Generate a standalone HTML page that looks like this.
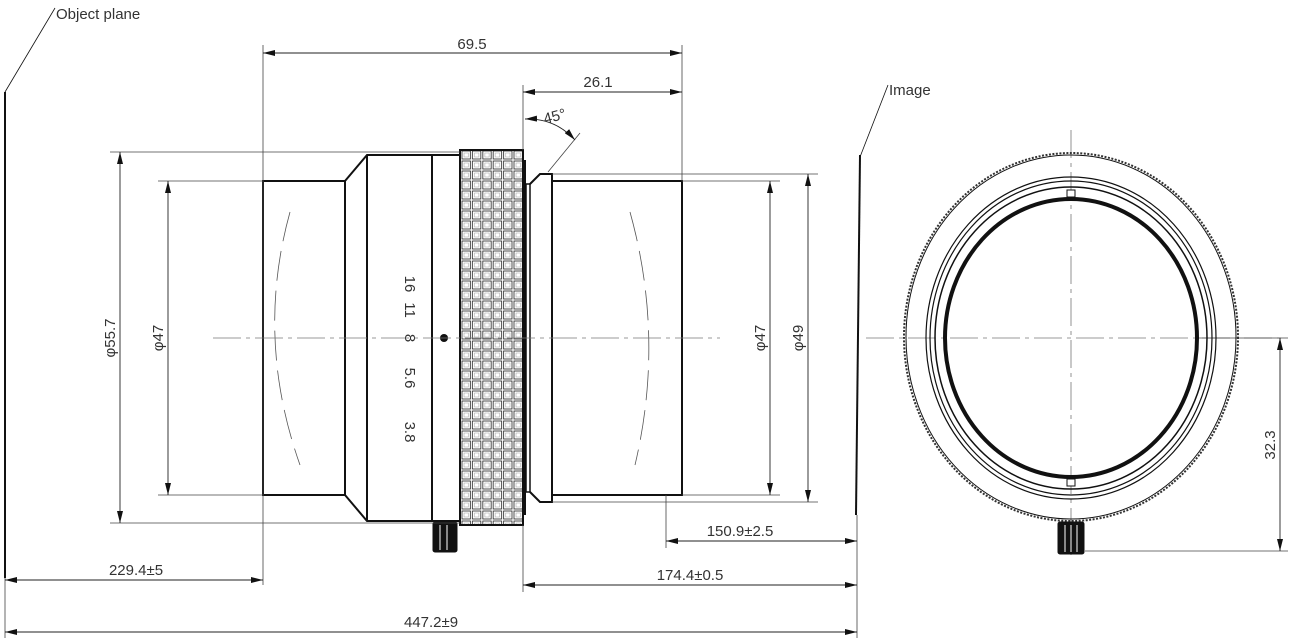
<!DOCTYPE html>
<html><head><meta charset="utf-8"><style>
html,body{margin:0;padding:0;background:#fff}
svg{display:block}
text{font-family:"Liberation Sans",sans-serif;fill:#333;font-size:15px}
</style></head><body>
<svg width="1290" height="640" viewBox="0 0 1290 640" xmlns="http://www.w3.org/2000/svg">
<defs>
<marker id="a" viewBox="0 0 12 6" refX="12" refY="3" markerWidth="12" markerHeight="6" orient="auto-start-reverse" markerUnits="userSpaceOnUse"><path d="M0,0L12,3L0,6z" fill="#111"/></marker>
<pattern id="k" x="461" y="150" width="10.4" height="10" patternUnits="userSpaceOnUse">
<rect width="10.4" height="10" fill="#fff"/>
<rect x="1" y="1" width="8.4" height="8" fill="none" stroke="#222" stroke-width="0.8"/>
<rect x="3" y="3" width="4.4" height="4" fill="none" stroke="#999" stroke-width="0.5"/>
</pattern>
</defs>
<g fill="none" stroke="#111">
<line x1="5" y1="92" x2="5" y2="578" stroke-width="2"/>
<line x1="5" y1="92" x2="55" y2="8" stroke-width="0.8"/>
<line x1="860" y1="155" x2="856" y2="515" stroke-width="2"/>
<line x1="860" y1="157" x2="888" y2="85" stroke-width="0.8"/>
<rect x="263" y="181" width="82" height="314" stroke-width="2"/>
<path d="M345,181L367,155H460V521H367L345,495" stroke-width="2"/>
<line x1="367" y1="155" x2="367" y2="521" stroke-width="2"/>
<line x1="432" y1="155" x2="432" y2="521" stroke-width="2"/>
<rect x="460" y="150" width="63" height="375" fill="url(#k)" stroke-width="2"/>
<rect x="523" y="160" width="3" height="355" fill="#111" stroke="none"/>
<rect x="526" y="184" width="4" height="308" stroke-width="1.5"/>
<path d="M530,184L540,174H552V502H540L530,492" stroke-width="2"/>
<rect x="552" y="181" width="130" height="314" stroke-width="2"/>
<path d="M290,212Q255,338 300,465" stroke-width="0.8" stroke-dasharray="30,10" stroke="#555"/>
<path d="M630,212Q665,338 635,465" stroke-width="0.8" stroke-dasharray="30,10" stroke="#555"/>
<rect x="433" y="522" width="24" height="30" rx="2" fill="#111"/>
<line x1="440" y1="525" x2="440" y2="550" stroke="#fff" stroke-width="1"/>
<line x1="447" y1="525" x2="447" y2="550" stroke="#fff" stroke-width="1"/>
<circle cx="444" cy="338" r="4" fill="#111" stroke="none"/>
</g>
<g stroke="#777" stroke-width="0.8" stroke-dasharray="28,5,4,5" fill="none">
<line x1="213" y1="338" x2="720" y2="338"/>
<line x1="866" y1="338" x2="1285" y2="338"/>
<line x1="1071" y1="130" x2="1071" y2="555"/>
</g>
<g stroke="#444" stroke-width="0.8" fill="none">
<line x1="263" y1="45" x2="263" y2="585"/>
<line x1="682" y1="45" x2="682" y2="181"/>
<line x1="523" y1="85" x2="523" y2="150"/>
<line x1="523" y1="525" x2="523" y2="592"/>
<line x1="857" y1="515" x2="857" y2="638"/>
<line x1="666" y1="495" x2="666" y2="548"/>
<line x1="5" y1="578" x2="5" y2="638"/>
<line x1="110" y1="152" x2="460" y2="152"/>
<line x1="110" y1="523" x2="460" y2="523"/>
<line x1="158" y1="181" x2="263" y2="181"/>
<line x1="158" y1="495" x2="263" y2="495"/>
<line x1="682" y1="181" x2="780" y2="181"/>
<line x1="682" y1="495" x2="780" y2="495"/>
<line x1="552" y1="174" x2="818" y2="174"/>
<line x1="552" y1="502" x2="818" y2="502"/>
<line x1="1196" y1="338" x2="1288" y2="338"/>
<line x1="1085" y1="551" x2="1288" y2="551"/>
<line x1="548" y1="172" x2="580" y2="133"/>
</g>
<g stroke="#222" stroke-width="0.9" fill="none" marker-start="url(#a)" marker-end="url(#a)">
<line x1="263" y1="53" x2="682" y2="53"/>
<line x1="523" y1="92" x2="682" y2="92"/>
<line x1="120" y1="152" x2="120" y2="523"/>
<line x1="168" y1="181" x2="168" y2="495"/>
<line x1="770" y1="181" x2="770" y2="495"/>
<line x1="808" y1="174" x2="808" y2="502"/>
<line x1="666" y1="541" x2="857" y2="541"/>
<line x1="523" y1="585" x2="857" y2="585"/>
<line x1="5" y1="580" x2="263" y2="580"/>
<line x1="5" y1="632" x2="857" y2="632"/>
<line x1="1280" y1="338" x2="1280" y2="551"/>
<path d="M525,119Q555,118 575,140"/>
</g>
<g fill="none" stroke="#111">
<ellipse cx="1071" cy="337" rx="167" ry="184" stroke-width="2" stroke-dasharray="2,1.5" stroke="#333"/>
<ellipse cx="1071" cy="337" rx="165" ry="182" stroke-width="1"/>
<ellipse cx="1071" cy="338" rx="145" ry="161" stroke-width="1.2"/>
<ellipse cx="1071" cy="338" rx="141" ry="157" stroke-width="1.2"/>
<ellipse cx="1071" cy="338" rx="136" ry="151" stroke-width="1.5"/>
<ellipse cx="1071" cy="338" rx="126" ry="139" stroke-width="4"/>
<rect x="1067" y="190" width="8" height="7" fill="#fff" stroke-width="1"/>
<rect x="1067" y="479" width="8" height="7" fill="#fff" stroke-width="1"/>
<rect x="1058" y="522" width="26" height="32" rx="2" fill="#111"/>
<line x1="1065" y1="525" x2="1065" y2="552" stroke="#fff"/>
<line x1="1071" y1="525" x2="1071" y2="552" stroke="#fff"/>
<line x1="1077" y1="525" x2="1077" y2="552" stroke="#fff"/>
</g>
<text x="56" y="19">Object plane</text>
<text x="889" y="95">Image</text>
<text x="472" y="49" text-anchor="middle">69.5</text>
<text x="598" y="87" text-anchor="middle">26.1</text>
<text x="545" y="124" transform="rotate(-15 545 124)">45°</text>
<text x="740" y="536" text-anchor="middle">150.9±2.5</text>
<text x="690" y="580" text-anchor="middle">174.4±0.5</text>
<text x="136" y="575" text-anchor="middle">229.4±5</text>
<text x="431" y="627" text-anchor="middle">447.2±9</text>
<text transform="translate(115 338) rotate(-90)" text-anchor="middle">φ55.7</text>
<text transform="translate(163 338) rotate(-90)" text-anchor="middle">φ47</text>
<text transform="translate(765 338) rotate(-90)" text-anchor="middle">φ47</text>
<text transform="translate(803 338) rotate(-90)" text-anchor="middle">φ49</text>
<text transform="translate(1275 445) rotate(-90)" text-anchor="middle">32.3</text>
<g style="font-size:17px;fill:#111">
<text transform="translate(405 284) rotate(90)" text-anchor="middle">16</text>
<text transform="translate(405 310) rotate(90)" text-anchor="middle">11</text>
<text transform="translate(405 338) rotate(90)" text-anchor="middle">8</text>
<text transform="translate(405 378) rotate(90)" text-anchor="middle">5.6</text>
<text transform="translate(405 432) rotate(90)" text-anchor="middle">3.8</text>
</g>
</svg>
</body></html>
